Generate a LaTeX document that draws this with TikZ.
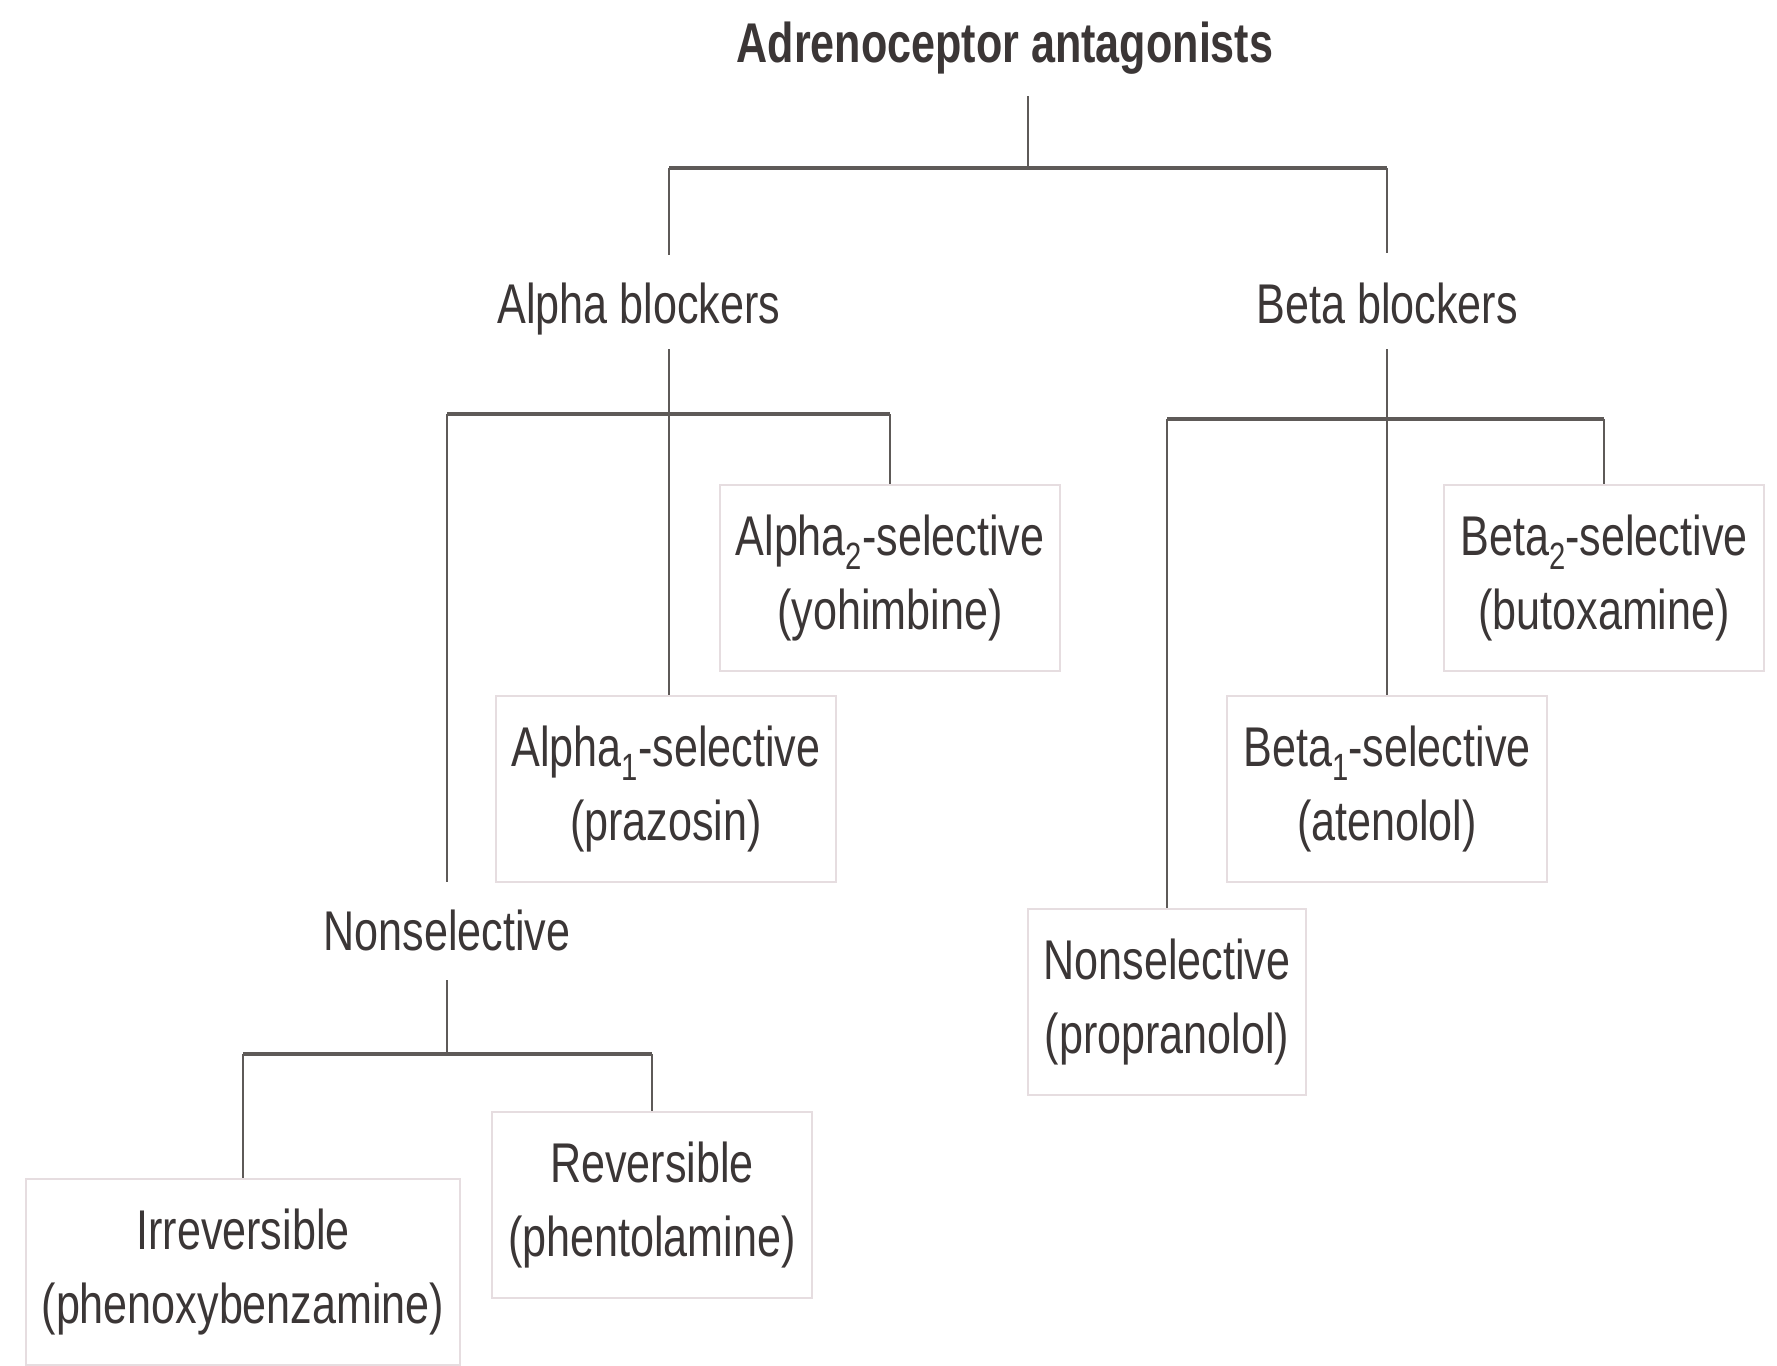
\documentclass[tikz,border=0pt]{standalone}
\usepackage{fontspec}
\setmainfont{Liberation Sans}[FakeStretch=0.77]
\usetikzlibrary{calc}
\definecolor{txt}{HTML}{3B3636}
\definecolor{linec}{HTML}{5E5A58}
\definecolor{boxline}{HTML}{E6DDE0}
\newcommand{\lowsub}[1]{\raisebox{-7pt}{\fontsize{19}{19}\selectfont #1}}
\tikzset{
  grp/.style={inner sep=0pt,outer sep=0pt,anchor=base,text height=20pt,text depth=6pt},
  drug/.style={draw=boxline,line width=1pt,align=center,inner xsep=8pt,inner ysep=0pt,minimum height=93pt},
  bar/.style={draw=linec,line width=2pt},
  stem/.style={draw=linec,line width=1pt}
}
\begin{document}
\begin{tikzpicture}[x=.5pt,y=-.5pt,text=txt,font=\fontsize{28}{37}\selectfont]
\path[use as bounding box] (0,0) rectangle (1777,1365);
\node[grp,font=\fontsize{28}{37}\selectfont\bfseries] (title) at (1005,62) {Adrenoceptor antagonists};
\node[grp] (ab) at (639,323) {Alpha blockers};
\node[grp] (bb) at (1387,323) {Beta blockers};
\node[grp] (ans) at (447,950) {Nonselective};
\node[drug] (a2) at (890,578) {Alpha\lowsub{2}-selective\\(yohimbine)};
\node[drug] (a1) at (666,789) {Alpha\lowsub{1}-selective\\(prazosin)};
\node[drug] (b2) at (1604,578) {Beta\lowsub{2}-selective\\(butoxamine)};
\node[drug] (b1) at (1387,789) {Beta\lowsub{1}-selective\\(atenolol)};
\node[drug] (bns) at (1167,1002) {Nonselective\\(propranolol)};
\node[drug] (rev) at (652,1205) {Reversible\\(phentolamine)};
\node[drug] (irr) at (243,1272) {Irreversible\\(phenoxybenzamine)};
\coordinate (tj) at (1028,168);
\coordinate (aj) at (669,414);
\coordinate (bj) at (1387,419);
\coordinate (nj) at (445,1054);
\draw[stem,shorten <=11pt] (title.south -| tj) -- (tj);
\draw[bar] (aj |- tj) -- (bb.north |- tj);
\draw[stem,shorten >=14pt] (aj |- tj) -- (aj |- ab.north);
\draw[stem,shorten >=15pt] (bb.north |- tj) -- (bb.north);
\draw[stem,shorten <=7pt] (aj |- ab.south) -- (aj |- a1.north);
\draw[bar] (ans.north |- aj) -- (a2.north |- aj);
\draw[stem,shorten >=14pt] (ans.north |- aj) -- (ans.north);
\draw[stem] (a2.north |- aj) -- (a2.north);
\draw[stem,shorten <=7pt] (bb.south) -- (b1.north);
\draw[bar] (bns.north |- bj) -- (b2.north |- bj);
\draw[stem] (bns.north |- bj) -- (bns.north);
\draw[stem] (b2.north |- bj) -- (b2.north);
\draw[stem,shorten <=9pt] (ans.south) -- (ans.south |- nj);
\draw[bar] (irr.north |- nj) -- (rev.north |- nj);
\draw[stem] (irr.north |- nj) -- (irr.north);
\draw[stem] (rev.north |- nj) -- (rev.north);
\end{tikzpicture}
\end{document}
